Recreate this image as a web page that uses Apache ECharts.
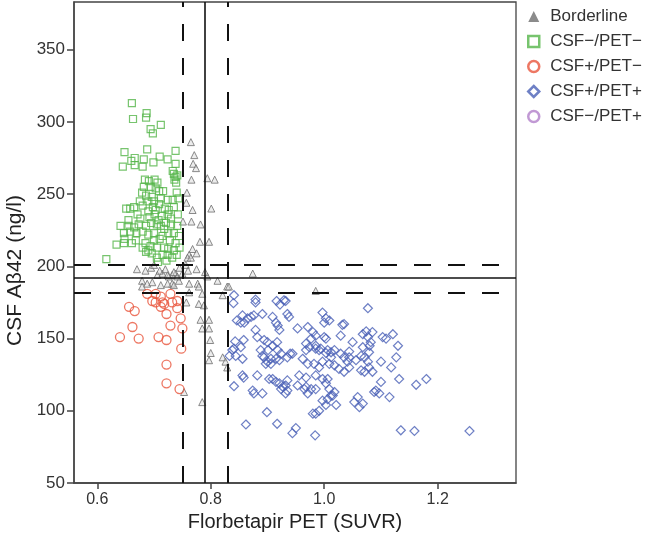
<!DOCTYPE html>
<html><head><meta charset="utf-8">
<script src="https://cdn.jsdelivr.net/npm/echarts@6/dist/echarts.min.js"></script>
<style>html,body{margin:0;padding:0;background:#fff}#c{width:649px;height:543px}</style>
</head><body><div id="c"></div>
<script>
const xTickValues = [0.6, 0.8, 1.0, 1.2];
const yTickValues = [50, 100, 150, 200, 250, 300, 350];
const cutoffX = {low: 0.751, mid: 0.79, high: 0.832};
const cutoffY = {low: 182, mid: 192, high: 201};
const seriesNames = ['Borderline', 'CSF\u2212/PET\u2212', 'CSF+/PET\u2212', 'CSF+/PET+', 'CSF\u2212/PET+'];

const borderline = [[0.765,286],[0.771,277],[0.769,271],[0.774,268],[0.766,260],[0.794,261],[0.807,260],[0.758,251],[0.757,244],[0.801,240],[0.768,239],[0.751,231],[0.766,231],[0.782,229],[0.797,217],[0.781,217],[0.768,212],[0.775,209],[0.762,208],[0.759,206],[0.765,206],[0.756,201],[0.738,195],[0.732,194],[0.726,193],[0.744,190],[0.732,188],[0.762,188],[0.777,188],[0.779,186],[0.794,193],[0.812,190],[0.829,186],[0.762,182],[0.785,181],[0.821,180],[0.706,194],[0.715,195],[0.724,194],[0.741,193],[0.750,195],[0.679,190],[0.688,188],[0.697,189],[0.712,187],[0.724,188],[0.735,187],[0.679,186],[0.782,163],[0.797,163],[0.785,157],[0.797,157],[0.799,149],[0.797,135],[0.800,140],[0.821,137],[0.826,134],[0.829,130],[0.753,113],[0.785,106],[0.874,195],[0.832,186],[0.779,174],[0.788,173],[0.757,175],[0.985,183],[0.670,198],[0.695,199],[0.710,197],[0.720,198],[0.735,196],[0.745,199],[0.760,197],[0.775,198],[0.790,196],[0.700,201],[0.685,197]];

const csfNegPetNeg = [[0.661,313],[0.663,302],[0.687,306],[0.686,303],[0.712,298],[0.694,295],[0.698,292],[0.648,279],[0.688,281],[0.738,280],[0.660,273],[0.666,275],[0.682,274],[0.699,272],[0.710,276],[0.724,274],[0.645,269],[0.666,270],[0.680,269],[0.735,264],[0.738,262],[0.733,266],[0.739,258],[0.736,260],[0.741,263],[0.684,260],[0.691,259],[0.701,260],[0.706,258],[0.682,255],[0.694,255],[0.703,254],[0.709,252],[0.679,251],[0.686,249],[0.696,248],[0.712,247],[0.724,246],[0.733,246],[0.743,247],[0.651,240],[0.658,240],[0.665,241],[0.680,242],[0.698,241],[0.703,239],[0.719,240],[0.726,239],[0.671,236],[0.701,236],[0.714,235],[0.724,236],[0.690,238],[0.709,243],[0.735,241],[0.641,228],[0.655,228],[0.665,227],[0.673,229],[0.686,228],[0.695,230],[0.705,229],[0.712,228],[0.721,230],[0.730,229],[0.741,228],[0.647,223],[0.658,224],[0.669,223],[0.680,224],[0.690,222],[0.700,223],[0.715,221],[0.725,223],[0.735,223],[0.648,219],[0.634,215],[0.647,216],[0.661,216],[0.685,216],[0.694,214],[0.705,213],[0.725,212],[0.735,211],[0.686,210],[0.696,209],[0.715,208],[0.724,208],[0.616,205],[0.676,233],[0.692,234],[0.708,232],[0.718,226],[0.728,218],[0.738,216],[0.744,221],[0.700,218],[0.710,219],[0.690,211],[0.705,206],[0.718,213],[0.740,208],[0.745,213],[0.700,245],[0.716,252],[0.690,245],[0.675,245],[0.655,232],[0.730,233],[0.742,236],[0.722,204],[0.732,206],[0.707,203],[0.680,213],[0.668,218],[0.740,251],[0.738,271]];

const csfPosPetNeg = [[0.688,181],[0.703,181],[0.712,179],[0.703,175],[0.715,175],[0.718,174],[0.712,172],[0.729,181],[0.732,175],[0.741,176],[0.741,171],[0.656,172],[0.666,169],[0.722,167],[0.747,164],[0.729,159],[0.750,157],[0.662,158],[0.640,151],[0.673,150],[0.708,151],[0.722,149],[0.748,143],[0.722,132],[0.722,119],[0.745,115],[0.697,176]];

const csfPosPetPos = [[0.841,180],[0.840,174.5],[0.879,177],[0.879,175],[0.916,176],[0.932,176],[0.922,173.5],[0.929,176.5],[0.856,166],[0.865,164],[0.871,165],[0.859,161],[0.853,161],[0.891,167],[0.909,165],[0.935,167],[0.938,165],[0.876,166],[0.915,161],[0.997,168],[1.003,164],[1.000,161],[1.009,162.5],[1.035,160],[1.032,159.5],[1.077,171],[0.918,159],[0.921,156],[0.879,156],[0.882,151],[0.894,149],[0.900,147.5],[0.858,149],[0.953,157],[0.971,158],[0.980,154.5],[0.985,152],[1.000,151],[0.977,150],[1.003,150],[1.029,152],[1.068,153],[1.077,151],[1.085,154.5],[1.103,151],[1.121,153],[1.109,150],[1.074,155],[1.050,147.5],[1.082,147.5],[1.130,145],[0.968,146.5],[0.974,144],[0.985,145],[0.994,143],[1.006,142],[1.012,140.5],[1.018,142],[1.029,139.5],[1.035,137],[1.044,137],[1.056,135],[1.068,144],[1.079,140.5],[1.065,138],[1.071,137],[1.127,137],[1.080,145],[1.044,141],[0.838,142],[0.841,143],[0.833,138],[0.844,138],[0.856,136],[0.853,144],[0.888,142],[0.891,138],[0.901,142],[0.909,145],[0.917,147.5],[0.918,142],[0.906,136],[0.915,136],[0.921,135],[0.940,139.5],[0.968,142],[0.985,143],[0.991,142],[0.894,137],[0.900,134],[0.924,139.5],[0.935,137],[0.944,139.5],[0.962,136],[0.906,132.5],[0.897,132.5],[0.982,132.5],[0.991,130],[0.971,132.5],[0.997,134],[1.009,132.5],[1.018,131.5],[1.026,129],[1.035,127],[1.044,130],[1.077,134],[1.079,130],[1.100,134],[1.118,130],[1.071,127],[1.085,127],[1.065,128],[1.003,140],[1.012,137],[1.041,134],[0.841,117],[0.858,123],[0.882,124.5],[0.909,122],[0.915,120],[0.921,119],[0.927,116.5],[0.932,117.5],[0.935,114],[0.932,112],[0.924,115],[0.956,124.5],[0.953,117.5],[0.968,116.5],[0.971,112],[0.968,123],[0.985,124.5],[0.997,122],[1.003,119],[1.009,115],[1.012,110.5],[1.006,122],[1.132,122],[1.162,118],[1.180,122],[1.100,120],[1.091,114],[1.097,112],[1.088,113],[1.115,109.5],[0.874,114],[0.876,112],[0.891,112],[0.856,124.5],[0.903,122],[0.935,121],[0.985,115],[0.965,115],[0.977,115],[1.015,110.5],[1.018,113],[1.006,108],[0.997,107],[0.991,100],[0.980,98],[1.021,104],[1.059,109.5],[1.062,102.5],[1.068,105],[0.985,98],[0.899,99],[0.862,90.5],[0.917,91],[0.944,84.5],[0.950,88],[0.984,83],[1.135,86.5],[1.159,86],[1.256,86],[1.053,106],[1.003,104],[0.846,162.5],[0.843,148]];

const csfNegPetPos = [];

const C = {gray:'#6e6e6e', green:'#55b54a', red:'#e8553c', blue:'#4a60b6', purple:'#b27fc9', axis:'#444'};
const FONT = '"Liberation Sans", Arial, Helvetica, sans-serif';

const chart = echarts.init(document.getElementById('c'), null, {renderer:'canvas'});
const dash = [17, 17];
chart.setOption({
  animation: false,
  textStyle: {fontFamily: FONT},
  grid: {left: 74, right: 133, top: 2, bottom: 60, containLabel: false, outerBoundsMode: 'none',
         show: true, borderColor: C.axis, borderWidth: 1.3},
  legend: {
    orient: 'vertical', left: 522, top: 3, itemWidth: 11, itemHeight: 11, itemGap: 8,
    textStyle: {fontSize: 17, color: '#333', fontFamily: FONT, lineHeight: 17, padding: [0, 0, 0, 6]},
    data: [
      {name: seriesNames[0], icon: 'triangle', itemStyle: {color: C.gray, borderWidth: 0}},
      {name: seriesNames[1], icon: 'rect', itemStyle: {color: '#fff', borderColor: C.green, borderWidth: 2.5}},
      {name: seriesNames[2], icon: 'circle', itemStyle: {color: '#fff', borderColor: C.red, borderWidth: 2.5}},
      {name: seriesNames[3], icon: 'diamond', itemStyle: {color: '#fff', borderColor: C.blue, borderWidth: 2.5}},
      {name: seriesNames[4], icon: 'circle', itemStyle: {color: '#fff', borderColor: C.purple, borderWidth: 2.5}}
    ]
  },
  xAxis: {
    type: 'value', min: 0.559, max: 1.338,
    name: 'Florbetapir PET (SUVR)', nameLocation: 'middle', nameGap: 28,
    nameTextStyle: {fontSize: 20, color: '#222', fontFamily: FONT},
    axisLine: {onZero: false, lineStyle: {color: C.axis, width: 1.5}},
    axisTick: {customValues: xTickValues, length: 6, lineStyle: {color: C.axis, width: 1.5}},
    axisLabel: {customValues: xTickValues, formatter: v => v.toFixed(1), fontSize: 16, color: '#333', margin: 9},
    splitLine: {show: false}
  },
  yAxis: {
    type: 'value', min: 50, max: 383,
    name: 'CSF A\u03b242 (ng/l)', nameLocation: 'middle', nameGap: 44,
    nameTextStyle: {fontSize: 21, color: '#222', fontFamily: FONT, padding: [0, 56, 0, 0]},
    axisLine: {onZero: false, lineStyle: {color: C.axis, width: 1.5}},
    axisTick: {customValues: yTickValues, length: 7, lineStyle: {color: C.axis, width: 1.5}},
    axisLabel: {customValues: yTickValues, fontSize: 17, color: '#333', margin: 9},
    splitLine: {show: false}
  },
  series: [
    {name: seriesNames[0], type: 'scatter', data: borderline, symbol: 'triangle', symbolSize: 7,
     itemStyle: {color: 'rgba(215,215,215,0.6)', borderColor: C.gray, borderWidth: 1}},
    {name: seriesNames[1], type: 'scatter', data: csfNegPetNeg, symbol: 'rect', symbolSize: 7,
     itemStyle: {color: 'rgba(0,0,0,0)', borderColor: C.green, borderWidth: 1.2}},
    {name: seriesNames[2], type: 'scatter', data: csfPosPetNeg, symbol: 'circle', symbolSize: 9,
     itemStyle: {color: 'rgba(0,0,0,0)', borderColor: C.red, borderWidth: 1.3}},
    {name: seriesNames[3], type: 'scatter', data: csfPosPetPos, symbol: 'diamond', symbolSize: 9,
     itemStyle: {color: 'rgba(0,0,0,0)', borderColor: C.blue, borderWidth: 1.2},
     markLine: {silent: true, symbol: 'none', label: {show: false}, animation: false,
       lineStyle: {color: '#111', width: 2},
       data: [
         {xAxis: cutoffX.low, lineStyle: {type: dash, color: '#111', width: 2}},
         {xAxis: cutoffX.mid, lineStyle: {type: 'solid', color: '#111', width: 1.6}},
         {xAxis: cutoffX.high, lineStyle: {type: dash, color: '#111', width: 2}},
         {yAxis: cutoffY.high, lineStyle: {type: dash, color: '#111', width: 2}},
         {yAxis: cutoffY.mid, lineStyle: {type: 'solid', color: '#111', width: 1.6}},
         {yAxis: cutoffY.low, lineStyle: {type: dash, color: '#111', width: 2}}
       ]}},
    {name: seriesNames[4], type: 'scatter', data: csfNegPetPos, symbol: 'circle', symbolSize: 9,
     itemStyle: {color: 'rgba(0,0,0,0)', borderColor: C.purple, borderWidth: 1.3}}
  ]
});
</script></body></html>
